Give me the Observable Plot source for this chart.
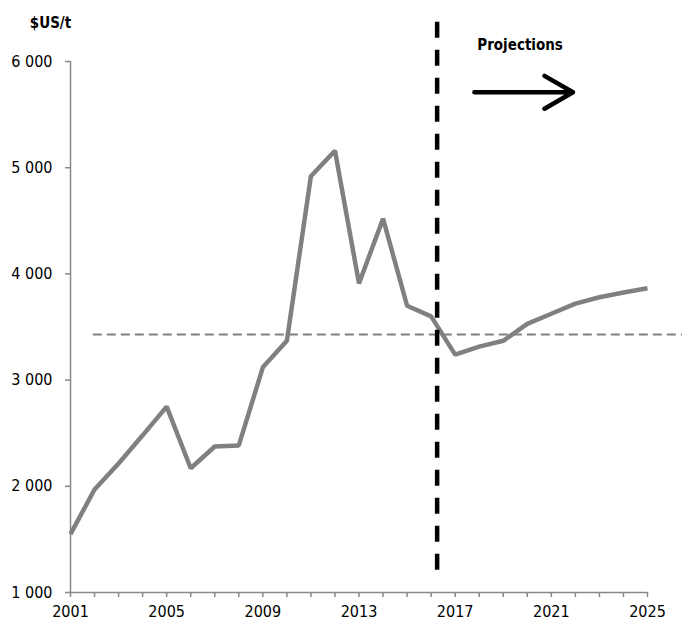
<!DOCTYPE html>
<html>
<head>
<meta charset="utf-8">
<script src="https://cdn.jsdelivr.net/npm/d3@7"></script>
<script src="https://cdn.jsdelivr.net/npm/@observablehq/plot@0.6"></script>
<style>
  html, body { margin: 0; padding: 0; background: #fff; }
  #chart svg text { font-stretch: condensed; }
</style>
</head>
<body>
<div id="chart"></div>
<script>
// ---- data ----
const years = [2001, 2002, 2003, 2004, 2005, 2006, 2007, 2008, 2009, 2010, 2011, 2012, 2013,
               2014, 2015, 2016, 2017, 2018, 2019, 2020, 2021, 2022, 2023, 2024, 2025];
const prices = [1550, 1970, 2215, 2480, 2750, 2170, 2375, 2385, 3120, 3370, 4920, 5160, 3910,
                4520, 3700, 3600, 3240, 3315, 3370, 3530, 3625, 3720, 3780, 3825, 3865];
const yTicks = [1000, 2000, 3000, 4000, 5000, 6000];
const xLabelYears = [2001, 2005, 2009, 2013, 2017, 2021, 2025];
const averagePrice = 3430;
const averageSpan = [2001.95, 2026.45];
const projectionStart = 2016.25;
const projectionSpan = [6370, 1210];
const arrowX = [2017.8, 2021.9];
const arrowY = 5710;
const projectionLabel = {text: "Projections", year: 2019.7, value: 6150};
const unitLabel = "$US/t";

const table = years.map((year, i) => ({year, price: prices[i]}));
const fmtY = d => d3.format(",")(d).replace(/,/g, " ");
const FONT = "'Liberation Sans Narrow', 'Arial Narrow', 'DejaVu Sans Condensed', 'DejaVu Sans', sans-serif";

const chart = Plot.plot({
  width: 695,
  height: 623,
  marginLeft: 70,
  marginRight: 48,
  marginTop: 61,
  marginBottom: 31,
  style: {fontFamily: FONT, fontSize: "16px", background: "#fff", color: "#000"},
  x: {domain: [2001, 2025]},
  y: {domain: [1000, 6000]},
  marks: [
    Plot.ruleX([2001], {y1: 1000, y2: 6000, stroke: "#888", strokeWidth: 1.5}),
    Plot.ruleY([1000], {x1: 2001, x2: 2025, stroke: "#888", strokeWidth: 1.5}),
    Plot.axisY({ticks: yTicks, tickFormat: fmtY, tickSize: 5, tickPadding: 13, label: null,
                stroke: "#888", strokeWidth: 1.5, fill: "#000", fontSize: 16}),
    Plot.axisX({ticks: years, tickFormat: d => xLabelYears.includes(d) ? String(d) : "", label: null,
                tickSize: 5, tickPadding: 8, stroke: "#888", strokeWidth: 1.5, fill: "#000", fontSize: 16}),
    Plot.ruleY([averagePrice], {x1: averageSpan[0], x2: averageSpan[1], stroke: "#808080",
                strokeWidth: 2, strokeDasharray: "9,5"}),
    Plot.line(table, {x: "year", y: "price", stroke: "#808080", strokeWidth: 4.5,
                strokeLinejoin: "miter", strokeLinecap: "butt"}),
    Plot.ruleX([projectionStart], {y1: projectionSpan[0], y2: projectionSpan[1], stroke: "#000",
                strokeWidth: 4.5, strokeDasharray: "16,12"}),
    Plot.arrow([{}], {x1: arrowX[0], x2: arrowX[1], y1: arrowY, y2: arrowY, stroke: "#000",
                strokeWidth: 4.5, headLength: 18, headAngle: 60}),
    Plot.text([projectionLabel], {x: "year", y: "value", text: "text", fontWeight: "bold",
                fontSize: 15, fill: "#000"}),
    Plot.text([unitLabel], {frameAnchor: "top-left", dx: -20, dy: -44, textAnchor: "middle",
                fontWeight: "bold", fontSize: 15, fill: "#000"})
  ]
});
document.getElementById("chart").appendChild(chart);
</script>
</body>
</html>
